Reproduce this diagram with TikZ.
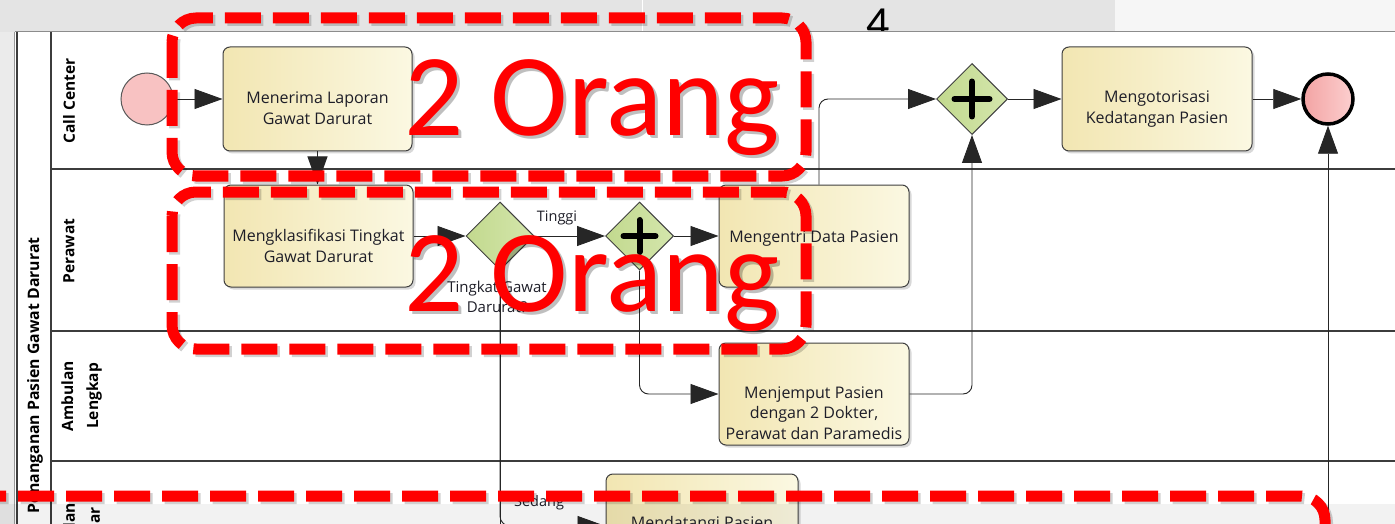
\documentclass[tikz,border=0pt]{standalone}
\usepackage{fontspec}
\setmainfont{Open Sans}
\newfontfamily\calib{Carlito}
\usetikzlibrary{shapes.geometric,arrows.meta,shadows}
\definecolor{taskL}{HTML}{F2E6B2}
\definecolor{taskR}{HTML}{FBF8E2}
\definecolor{gwL}{HTML}{C2D98E}
\definecolor{gwR}{HTML}{D4E6AC}
\definecolor{startfill}{HTML}{F8C2C2}
\definecolor{endL}{HTML}{F3A3A3}
\definecolor{endR}{HTML}{FCCFCF}
\definecolor{annred}{HTML}{FF0000}
\definecolor{txt}{HTML}{1E1E28}
\definecolor{topgray}{HTML}{E4E4E4}
\definecolor{toplight}{HTML}{F6F6F6}
\definecolor{sidegray}{HTML}{EBEBEB}
\definecolor{lanecol}{HTML}{3C3C3C}
\newcommand\plusmark[2]{\draw[line width=6pt, line cap=round] ([xshift=-#2]#1.center) -- ([xshift=#2]#1.center) ([yshift=-#2]#1.center) -- ([yshift=#2]#1.center);}
\begin{document}
\begin{tikzpicture}[x=1pt, y=-1pt,
  task/.style={draw=black!75, line width=1pt, rounded corners=7pt, left color=taskL, right color=taskR,
    minimum width=189pt, minimum height=104pt, inner sep=0pt,
    drop shadow={shadow xshift=2.5pt, shadow yshift=-2.5pt, opacity=0.3}},
  tasktext/.style={align=center, text=txt, font=\fontsize{16}{20.5}\selectfont, inner sep=0pt},
  gw/.style={diamond, aspect=1, draw=black!75, line width=1pt, left color=gwL, right color=gwR,
    minimum width=68pt, minimum height=68pt, inner sep=0pt},
  flow/.style={draw=black!85, line width=0.9pt, -{Triangle[length=28pt,width=20pt]}},
  plainline/.style={draw=black!85, line width=0.9pt},
  lanelbl/.style={rotate=90, font=\bfseries\fontsize{15.5}{25}\selectfont, align=center, text=black},
  lbl/.style={font=\fontsize{15}{20}\selectfont, text=txt, align=center, inner sep=0pt},
  redbox/.style={draw=annred, line width=11pt, dash pattern=on 36pt off 12pt, rounded corners=24pt},
  redtxt/.style={font=\calib\fontsize{117}{117}\selectfont, text=annred, anchor=base, inner sep=0pt},
]
\useasboundingbox (0,0) rectangle (1395,524);
\clip (0,0) rectangle (1395,524);
% slide background
\fill[sidegray] (0,0) rectangle (1395,524);
\fill[topgray] (0,0) rectangle (1115,32);
\fill[toplight] (1115,0) rectangle (1395,32);
\draw[white, line width=1pt] (642,0) -- (642,32);
\node[font=\calib\fontsize{46}{46}\selectfont, anchor=base, text=black, inner sep=0pt] (four) at (878,39) {4};
% diagram area
\fill[white] (15,32) rectangle (1395,524);
\draw[black!45, line width=1pt] (15,32) -- (1395,32);
\draw[black!40, line width=1pt] (14,32) -- (14,524);
\draw[lanecol, line width=1.2pt] (17,32) -- (17,524);
\draw[lanecol, line width=1.2pt] (51,32) -- (51,524);
\foreach \yy in {169,331,461} \draw[lanecol, line width=1.2pt] (51,\yy) -- (1395,\yy);
% labels of pool and lanes
\node[lanelbl, anchor=east, font=\bfseries\fontsize{15.8}{18}\selectfont] (pool) at (35,234) {Penanganan Pasien Gawat Darurat};
\node[lanelbl] (lcc) at (69,101) {Call Center};
\node[lanelbl] (lpr) at (69,251) {Perawat};
\node[lanelbl] (lal) at (81.5,396) {Ambulan\\Lengkap};
\node[lanelbl] (las) at (81.5,538) {Ambulan\\Standar};
% events, tasks, gateways
\node[circle, draw=black!65, line width=1pt, fill=startfill, minimum size=52pt, inner sep=0pt] (start) at (147,99) {};
\node[task] (t1) at (317.5,99) {};
\node[tasktext] (t1x) at ([yshift=-9pt]t1.center) {Menerima Laporan\\Gawat Darurat};
\node[task, minimum height=102pt] (t2) at (318.5,236) {};
\node[tasktext] (t2x) at ([yshift=-10pt]t2.center) {Mengklasifikasi Tingkat\\Gawat Darurat};
\node[gw] (g1) at (500,236) {};
\node[gw] (g2) at (639.5,236) {};
\plusmark{g2}{16pt}
\node[task, minimum width=190pt, minimum height=102pt] (t3) at (814,236) {};
\node[tasktext] (t3x) at ([yshift=-3pt]t3.center) {Mengentri Data Pasien};
\node[task, minimum width=190pt, minimum height=102pt] (t4) at (814,394) {};
\node[tasktext] (t4x) at ([yshift=-19pt]t4.center) {Menjemput Pasien\\dengan 2 Dokter,\\Perawat dan Paramedis};
\node[gw, minimum width=71pt, minimum height=71pt] (g3) at (972,99) {};
\plusmark{g3}{17.5pt}
\node[task, minimum width=190pt] (t5) at (1157,99) {};
\node[tasktext] (t5x) at ([yshift=-10pt]t5.center) {Mengotorisasi\\Kedatangan Pasien};
\node[circle, draw=black, line width=3.5pt, left color=endL, right color=endR, minimum size=50pt, inner sep=0pt] (end) at (1328,99) {};
\node[task, minimum width=192pt, minimum height=104pt] (t6) at (702,526) {};
\node[tasktext] (t6x) at ([yshift=2pt]t6.center) {Mendatangi Pasien};
\node[lbl] (glbl) at (497,297) {Tingkat Gawat\\Darurat?};
\node[lbl, font=\fontsize{14.5}{18}\selectfont] (tinggi) at (557,218) {Tinggi};
\node[lbl, font=\fontsize{14.5}{18}\selectfont] (sedang) at (539,503) {Sedang};
\coordinate (g1down) at (500,560);
\coordinate (endin) at (1328,560);
\coordinate (t3top) at ([xshift=5pt]t3.north);
% flows
\draw[flow] (start) -- (t1);
\draw[flow] (t1.south) -- (t1.south |- t2.north);
\draw[flow] (t2) -- (g1);
\draw[flow] (g1) -- (g2);
\draw[flow] (g2) -- (t3);
\draw[flow, rounded corners=9pt] (g2.south) |- (t4.west);
\draw[flow, rounded corners=9pt] (t3top) |- (g3.west);
\draw[flow, rounded corners=9pt] (t4.east) -| (g3.south);
\draw[flow] (g3) -- (t5);
\draw[flow] (t5) -- (end);
\draw[flow] (endin) -- (end.south);
\draw[plainline] (g1.south) -- (g1down);
\draw[flow, rounded corners=10pt] (g1.south) |- (t6.west);
% bottom fade of the slide
\fill[black, opacity=0.05] (0,504) rectangle (1395,524);
% red annotations
\begin{scope}[shift={(2.5,2.5)}]
\draw[redbox, draw=black, opacity=0.18] (172,18) rectangle (806,176);
\draw[redbox, draw=black, opacity=0.18] (172,192) rectangle (806,349);
\draw[redbox, draw=black, opacity=0.18] (-30,496) -- (1325,496) -- (1325,600);
\end{scope}
\draw[redbox] (172,18) rectangle (806,176);
\draw[redbox] (172,192) rectangle (806,349);
\draw[redbox] (-30,496) -- (1325,496) -- (1325,600);
\node[redtxt, text=black, opacity=0.25] (o1s) at (595,139) {2 Orang};
\node[redtxt] (o1) at (592,136) {2 Orang};
\node[redtxt, text=black, opacity=0.25] (o2s) at (595,314) {2 Orang};
\node[redtxt] (o2) at (592,311) {2 Orang};
\end{tikzpicture}
\end{document}
